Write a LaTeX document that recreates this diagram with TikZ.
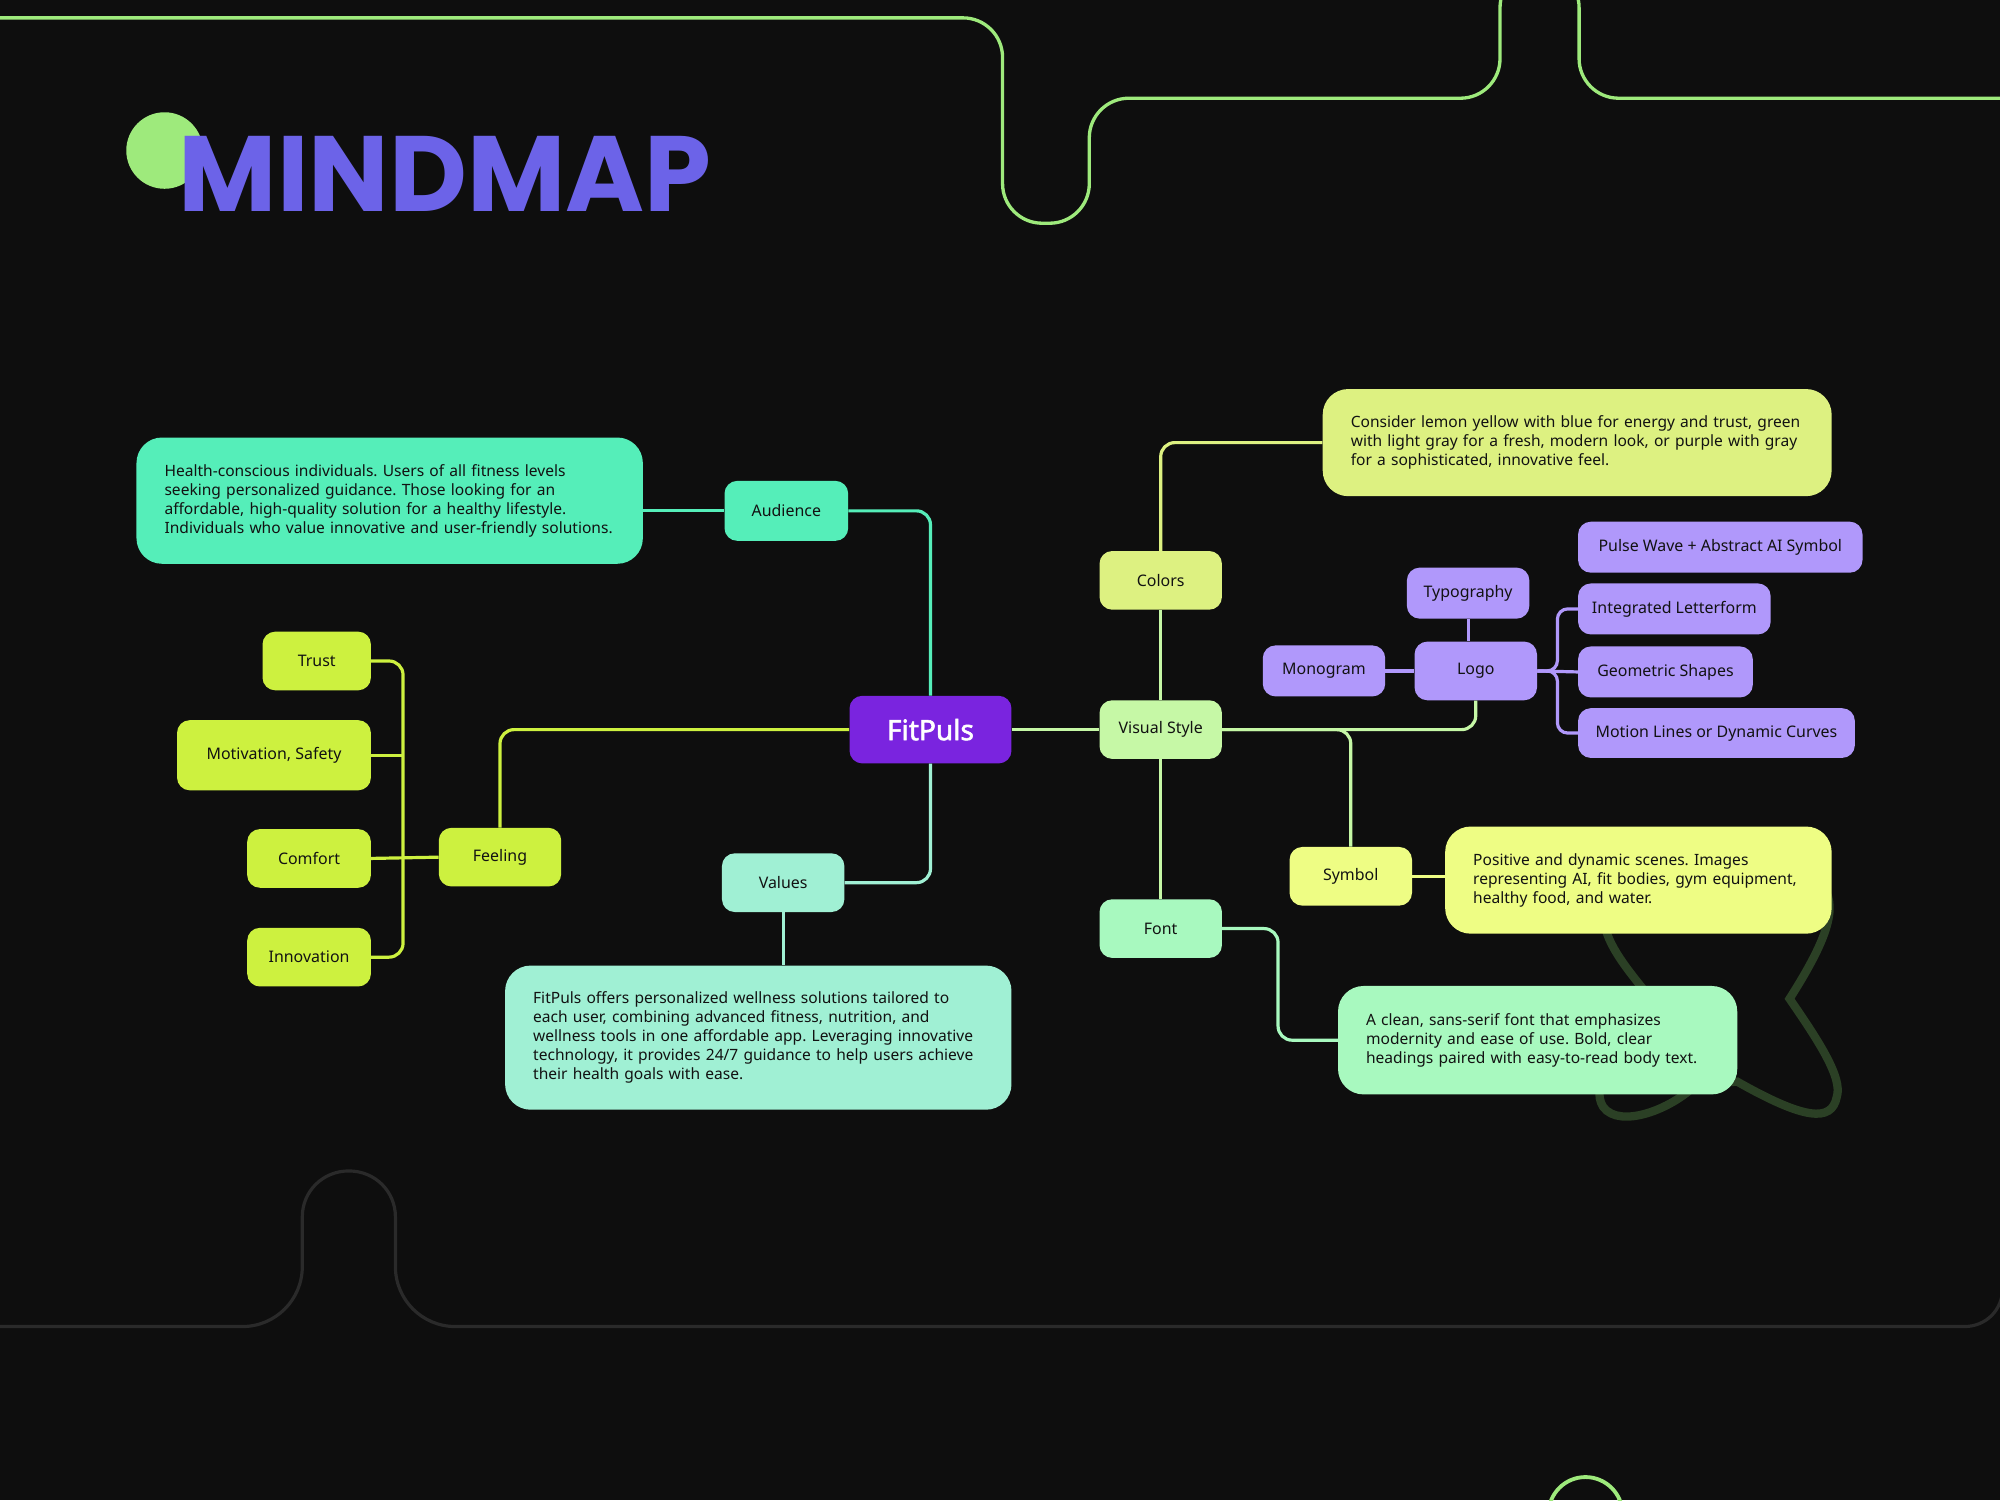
\documentclass[tikz,border=0pt]{standalone}
\usepackage{fontspec}
\setmainfont{Noto Sans}
\newfontfamily\titlefont{Poppins}
\newfontfamily\hubfont{Noto Sans}[FakeBold=2]
\usetikzlibrary{positioning}
\frenchspacing

\definecolor{bgdark}{HTML}{0E0E0E}
\definecolor{ink}{HTML}{121212}
\definecolor{accent}{HTML}{9EEA7C}
\definecolor{titleblue}{HTML}{6C63E8}
\definecolor{hubviolet}{HTML}{7A24DF}
\definecolor{audteal}{HTML}{55EEB9}
\definecolor{valmint}{HTML}{A0F0D4}
\definecolor{feellime}{HTML}{CDF13F}
\definecolor{stylegreen}{HTML}{C6F8A6}
\definecolor{coloryellow}{HTML}{DDF181}
\definecolor{symyellow}{HTML}{EEFD84}
\definecolor{fontmint}{HTML}{A8F9BF}
\definecolor{logolilac}{HTML}{B098FB}
\definecolor{frameline}{HTML}{2A2A2A}
\definecolor{stardark}{HTML}{2B4025}

\begin{document}
\begin{tikzpicture}[x=1pt, y=-1pt,
    topic/.style={fill=#1, rounded corners=10pt, minimum width=96pt, minimum height=46pt, inner sep=0pt, text=ink, font=\fontsize{12.5}{15}\selectfont},
    note/.style={fill=#1, rounded corners=20pt, inner xsep=22pt, inner ysep=0pt, align=left, text=ink, font=\fontsize{12.2}{15}\selectfont},
    link/.style={draw=#1, line width=2.5pt, rounded corners=11pt}]

    % Background and frame lines
    \useasboundingbox (0,0) rectangle (1568,1176);
    \clip (0,0) rectangle (1568,1176);
    \fill[bgdark] (0,0) rectangle (1568,1176);
    \draw[accent, line width=2.6pt, rounded corners=31pt] (-10,14) -- (786,14) -- (786,175) -- (854,175) -- (854,77) -- (1176,77) -- (1176,-25) -- (1238,-25) -- (1238,77) -- (1580,77);
    \draw[frameline, line width=2.5pt] (-10,1040) -- (190,1040) .. controls (216,1040) and (237,1019) .. (237,993) -- (237,954) .. controls (237,934) and (253,918) .. (273.5,918) .. controls (294,918) and (310,934) .. (310,954) -- (310,993) .. controls (310,1019) and (331,1040) .. (357,1040) -- (1540,1040) .. controls (1557,1040) and (1570,1027) .. (1570,1010) -- (1570,900);
    \draw[stardark, line width=6.5pt] (1425,690) .. controls (1440,705) and (1440,725) .. (1403,783) .. controls (1425,815) and (1445,845) .. (1440,860) .. controls (1436,880) and (1415,878) .. (1362,848) -- (1330,850) .. controls (1310,870) and (1270,885) .. (1257,868) .. controls (1245,850) and (1270,820) .. (1300,790) .. controls (1280,765) and (1262,745) .. (1258,725) -- cycle;
    \draw[accent, line width=3pt] (1243,1187) circle (29pt);

    % Title
    \fill[accent] (129,118) circle (30pt);
    \node[anchor=base west, inner sep=0pt, text=titleblue, font=\titlefont\bfseries\fontsize{84}{84}\selectfont] (title) at (140,166) {MINDMAP};

    % Hub
    \node[topic=hubviolet, minimum width=127pt, minimum height=53pt, text=white, font=\hubfont\fontsize{22}{24}\selectfont] (fitpuls) at (729.5,572) {FitPuls};

    % Audience branch
    \node[topic=audteal, minimum width=97pt, minimum height=47pt] (audience) at (616.5,400.5) {Audience};
    \node[note=audteal, text width=353pt, minimum height=99pt] (audnote) at (305.5,392.5) {Health-conscious individuals. Users of all fitness levels\\seeking personalized guidance. Those looking for an\\affordable, high-quality solution for a healthy lifestyle.\\Individuals who value innovative and user-friendly solutions.};

    % Feeling branch
    \node[topic=feellime] (feeling) at (392,672) {Feeling};
    \node[topic=feellime, minimum width=85pt, anchor=north east] (trust) at (291,495) {Trust};
    \node[topic=feellime, minimum width=152pt, minimum height=55pt, below=23pt of trust.south east, anchor=north east] (motivation) {Motivation, Safety};
    \node[topic=feellime, minimum width=97pt, below=30pt of motivation.south east, anchor=north east] (comfort) {Comfort};
    \node[topic=feellime, minimum width=97pt, below=31pt of comfort.south east, anchor=north east] (innovation) {Innovation};
    \coordinate (feelbus) at (316,672);

    % Values branch
    \node[topic=valmint] (values) at (614,692) {Values};
    \node[note=valmint, text width=353pt, minimum height=113pt] (valnote) at (594.5,813.5) {FitPuls offers personalized wellness solutions tailored to\\each user, combining advanced fitness, nutrition, and\\wellness tools in one affordable app. Leveraging innovative\\technology, it provides 24/7 guidance to help users achieve\\their health goals with ease.};

    % Visual style branch
    \node[topic=stylegreen] (style) at (910,572) {Visual Style};
    \node[topic=coloryellow] (colors) at (910,455) {Colors};
    \node[note=coloryellow, text width=355pt, minimum height=84pt] (colnote) at (1236.5,347) {Consider lemon yellow with blue for energy and trust, green\\with light gray for a fresh, modern look, or purple with gray\\for a sophisticated, innovative feel.};
    \node[topic=fontmint] (font) at (910,728) {Font};
    \node[note=fontmint, text width=269pt, minimum height=85pt] (fontnote) at (1205.5,815.5) {A clean, sans-serif font that emphasizes\\modernity and ease of use. Bold, clear\\headings paired with easy-to-read body text.};
    \node[topic=symyellow] (symbol) at (1059,687) {Symbol};
    \node[note=symyellow, text width=259pt, minimum height=84pt] (symnote) at (1284.5,690) {Positive and dynamic scenes. Images\\representing AI, fit bodies, gym equipment,\\healthy food, and water.};
    \coordinate (fontbend) at (1002,760);

    % Logo cluster
    \node[topic=logolilac] (logo) at (1157,526) {Logo};
    \node[topic=logolilac, minimum height=40pt] (monogram) at (1038,526) {Monogram};
    \node[topic=logolilac, minimum height=40pt] (typography) at (1151,465) {Typography};
    \node[topic=logolilac, minimum width=223pt, minimum height=40pt, anchor=west] (pulse) at (1237,429) {Pulse Wave + Abstract AI Symbol};
    \node[topic=logolilac, minimum width=151pt, minimum height=40pt, below=8pt of pulse.south west, anchor=north west] (letterform) {Integrated Letterform};
    \node[topic=logolilac, minimum width=137pt, minimum height=40pt, below=9pt of letterform.south west, anchor=north west] (shapes) {Geometric Shapes};
    \node[topic=logolilac, minimum width=217pt, minimum height=39pt, below=8pt of shapes.south west, anchor=north west] (curves) {Motion Lines or Dynamic Curves};
    \coordinate (logobus) at (1221,526);

    % Connectors
    \draw[link=audteal] (audnote.east |- audience.west) -- (audience.west);
    \draw[link=audteal] (audience.east) -| (fitpuls.north);
    \draw[link=valmint] (values.east) -| (fitpuls.south);
    \draw[link=valmint] (values.south) -- (values.south |- valnote.north);
    \draw[link=feellime] (fitpuls.west) -| (feeling.north);
    \draw[link=feellime] (trust.east) -| (feelbus |- innovation.east) -- (innovation.east);
    \draw[link=feellime] (motivation.east) -- (feelbus |- motivation.east);
    \draw[link=feellime] (comfort.east) -- (feeling.west);
    \draw[link=stylegreen] (fitpuls.east) -- (style.west);
    \draw[link=stylegreen] (colors.south) -- (style.north);
    \draw[link=coloryellow] (colors.north) |- (colnote.west);
    \draw[link=stylegreen] (style.south) -- (font.north);
    \draw[link=fontmint] (font.east) -| (fontbend |- fontnote.west) -- (fontnote.west);
    \draw[link=stylegreen] (style.east) -| (logo.south);
    \draw[link=stylegreen] (style.east) -| (symbol.north);
    \draw[link=symyellow] (symbol.east) -- (symbol.east -| symnote.west);
    \draw[link=logolilac] (monogram.east) -- (logo.west);
    \draw[link=logolilac] (typography.south) -- (typography.south |- logo.north);
    \draw[link=logolilac, rounded corners=8pt] (logo.east) -| (logobus |- letterform.west) -- (letterform.west);
    \draw[link=logolilac] (logo.east) -- (shapes.west);
    \draw[link=logolilac, rounded corners=8pt] (logo.east) -| (logobus |- curves.west) -- (curves.west);
\end{tikzpicture}
\end{document}
